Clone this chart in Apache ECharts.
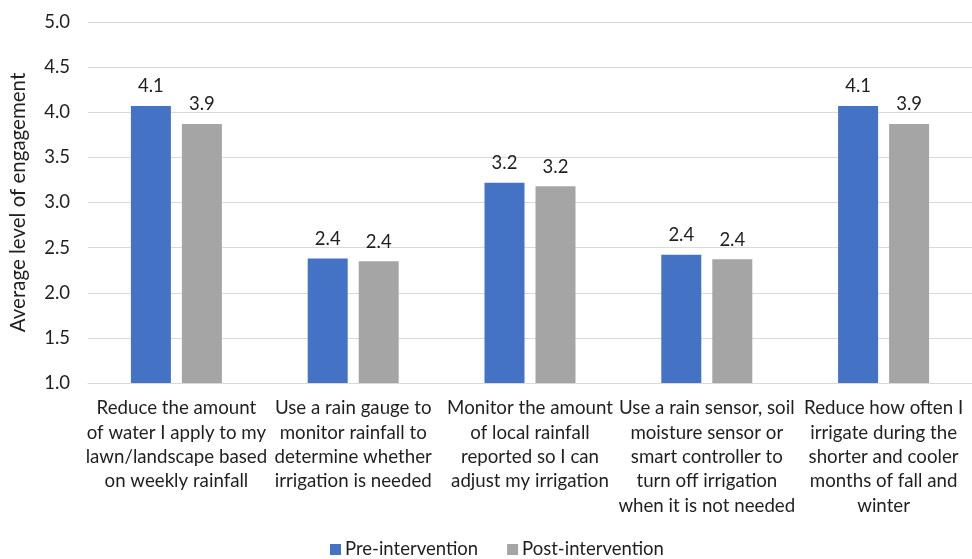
<!DOCTYPE html>
<html>
<head>
<meta charset="utf-8">
<script src="https://cdn.jsdelivr.net/npm/echarts@6/dist/echarts.min.js"></script>
<style>
  html, body { margin: 0; padding: 0; background: #ffffff; }
  #chart { width: 972px; height: 559px; }
</style>
</head>
<body>
<div id="chart"></div>
<script>
// Irrigation practices (x categories)
const categories = [
  'Reduce the amount\nof water I apply to my\nlawn/landscape based\non weekly rainfall',
  'Use a rain gauge to\nmonitor rainfall to\ndetermine whether\nirrigation is needed',
  'Monitor the amount\nof local rainfall\nreported so I can\nadjust my irrigation',
  'Use a rain sensor, soil\nmoisture sensor or\nsmart controller to\nturn off irrigation\nwhen it is not needed',
  'Reduce how often I\nirrigate during the\nshorter and cooler\nmonths of fall and\nwinter'
];

// Average engagement scores
const preIntervention = [4.07, 2.38, 3.22, 2.42, 4.07];
const postIntervention = [3.87, 2.35, 3.18, 2.37, 3.87];

// Value axis settings
const yMin = 1.0;
const yMax = 5.0;
const yStep = 0.5;

const FONT = 'Lato, "Open Sans", sans-serif';
const TEXT = '#1f1f1f';

const chart = echarts.init(document.getElementById('chart'), null, { renderer: 'canvas' });

const valueLabel = {
  show: true,
  position: 'top',
  distance: 10,
  color: TEXT,
  fontFamily: FONT,
  fontSize: 18.5,
  formatter: p => p.value.toFixed(1)
};

chart.setOption({
  animation: false,
  backgroundColor: '#ffffff',
  textStyle: { fontFamily: FONT, color: TEXT },
  grid: { left: 81, top: 22, width: 902, height: 361, containLabel: false },
  legend: {
    left: 325,
    bottom: -5,
    itemWidth: 11,
    itemHeight: 11,
    itemGap: 29,
    icon: 'rect',
    textStyle: { fontFamily: FONT, fontSize: 18.5, color: TEXT, padding: [0, 0, 0, -1] },
    data: ['Pre-intervention', 'Post-intervention']
  },
  xAxis: {
    type: 'category',
    data: categories,
    axisLine: { show: true, lineStyle: { color: '#d9d9d9', width: 1 } },
    axisTick: { show: false },
    axisLabel: {
      interval: 0,
      margin: 13,
      color: TEXT,
      fontFamily: FONT,
      fontSize: 18.7,
      lineHeight: 24.4,
      align: 'center',
      verticalAlign: 'top'
    }
  },
  yAxis: {
    type: 'value',
    min: yMin,
    max: yMax,
    interval: yStep,
    name: 'Average level of engagement',
    nameLocation: 'middle',
    nameGap: 59,
    nameRotate: 90,
    nameTextStyle: { fontFamily: FONT, fontSize: 20.5, color: TEXT },
    axisLine: { show: false },
    axisTick: { show: false },
    axisLabel: {
      margin: 18,
      color: TEXT,
      fontFamily: FONT,
      fontSize: 18.5,
      formatter: v => v.toFixed(1)
    },
    splitLine: { show: true, lineStyle: { color: '#d9d9d9', width: 1 } }
  },
  series: [
    {
      name: 'Pre-intervention',
      type: 'bar',
      data: preIntervention,
      barWidth: 40,
      barGap: '27.5%',
      itemStyle: { color: '#4472C4' },
      label: valueLabel
    },
    {
      name: 'Post-intervention',
      type: 'bar',
      data: postIntervention,
      barWidth: 40,
      itemStyle: { color: '#A5A5A5' },
      label: valueLabel
    }
  ]
});
</script>
</body>
</html>
